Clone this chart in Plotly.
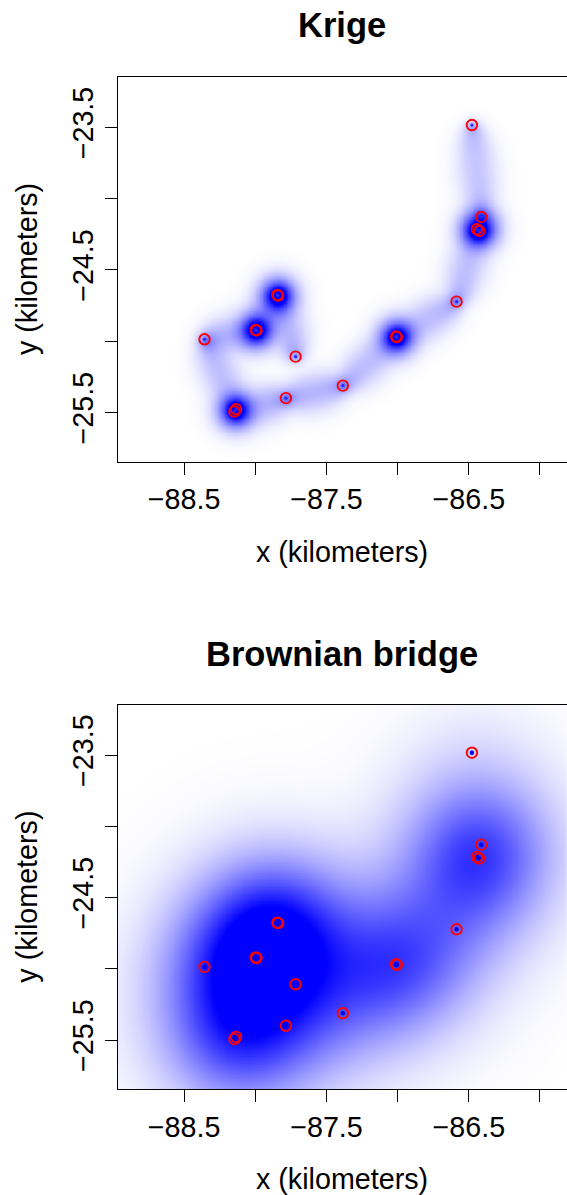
import numpy as np
import plotly.graph_objects as go

# ---- observed locations (in trajectory order) ----
x_obs = [-87.717, -87.845, -87.840, -87.997, -87.992, -88.357, -88.135, -88.147,
         -87.785, -87.385, -87.011, -87.006, -86.586, -86.443, -86.426, -86.412, -86.478]
y_obs = [-25.109, -24.676, -24.680, -24.921, -24.925, -24.987, -25.478, -25.494,
         -25.400, -25.312, -24.968, -24.972, -24.723, -24.215, -24.227, -24.129, -23.484]
# relative weight of each step between consecutive fixes (repeated fixes weigh more)
seg_weight = [1, 3, 1, 3, 1, 1, 3, 1, 1, 1, 3, 1, 1, 3, 1, 1]

x_ticks = [-88.5, -88.0, -87.5, -87.0, -86.5, -86.0]
x_ticktext = ["\u221288.5", "", "\u221287.5", "", "\u221286.5", ""]
y_ticks = [-23.5, -24.0, -24.5, -25.0, -25.5]
y_ticktext = ["\u221223.5", "", "\u221224.5", "", "\u221225.5"]

titles = ["Krige", "Brownian bridge"]
x_label = "x (kilometers)"
y_label = "y (kilometers)"

x_range = [-88.967, -85.81]
y_range = [-25.846, -23.149]

# ---- utilisation surfaces computed from the observed track ----
gx = np.linspace(x_range[0], x_range[1], 320)
gy = np.linspace(y_range[0], y_range[1], 275)
GX, GY = np.meshgrid(gx, gy)


def bridge_density(xs, ys, weights, sm, delta, nstep):
    xs = np.asarray(xs); ys = np.asarray(ys)
    Z = np.zeros_like(GX)
    alphas = (np.arange(nstep) + 0.5) / nstep
    for i in range(len(xs) - 1):
        w = weights[i]
        for a in alphas:
            mx = xs[i] + a * (xs[i + 1] - xs[i])
            my = ys[i] + a * (ys[i + 1] - ys[i])
            v = a * (1 - a) * sm ** 2 + delta ** 2 * ((1 - a) ** 2 + a ** 2)
            Z += w * np.exp(-((GX - mx) ** 2 + (GY - my) ** 2) / (2 * v)) / (2 * np.pi * v)
    return Z / (sum(weights) * nstep)


z_krige = bridge_density(x_obs, y_obs, seg_weight, 0.16, 0.015, 90)
z_krige = np.clip(z_krige / 3.5, 0, 1) ** 0.6

z_bb = bridge_density(x_obs, y_obs, seg_weight, 0.8, 0.25, 40)
z_bb = np.clip(z_bb / (0.70 * z_bb.max()), 0, 1)

W, H = 567, 1195
box_left = 117.7
boxes = [(77.3, 461.7), (705.0, 1089.3)]

fig = go.Figure()
font = "Liberation Sans, Arial, Helvetica, sans-serif"
blue_scale = [[0, "rgb(255,255,255)"], [1, "rgb(0,0,255)"]]

for k, (zz, (top, bot)) in enumerate(zip([z_krige, z_bb], boxes)):
    xa = "x" if k == 0 else "x2"
    ya = "y" if k == 0 else "y2"
    fig.add_trace(go.Heatmap(x=gx, y=gy, z=np.round(zz, 4), colorscale=blue_scale,
                             zmin=0, zmax=1, showscale=False, zsmooth="best",
                             hoverinfo="skip", xaxis=xa, yaxis=ya))
    fig.add_trace(go.Scatter(x=x_obs, y=y_obs, mode="markers", xaxis=xa, yaxis=ya,
                             marker=dict(symbol="circle", size=3.2 if k == 0 else 4.5,
                                         color="rgb(40,40,255)" if k == 0 else "rgb(0,0,225)"),
                             hoverinfo="skip", showlegend=False))
    fig.add_trace(go.Scatter(x=x_obs, y=y_obs, mode="markers", xaxis=xa, yaxis=ya,
                             marker=dict(symbol="circle-open", size=10.5, color="red",
                                         line=dict(width=1.9, color="red")),
                             hoverinfo="skip", showlegend=False))

axis_common = dict(showgrid=False, zeroline=False, showline=True, linecolor="black",
                   linewidth=1.3, ticks="outside", ticklen=12, tickwidth=1.3,
                   tickcolor="black", tickfont=dict(family=font, size=28.7, color="black"))

for k, (top, bot) in enumerate(boxes):
    sfx = "" if k == 0 else "2"
    fig.update_layout(**{
        "xaxis" + sfx: dict(axis_common, domain=[box_left / W, 1.0], range=x_range,
                            anchor="y" + sfx, tickmode="array", tickvals=x_ticks,
                            ticktext=x_ticktext, mirror=True),
        "yaxis" + sfx: dict(axis_common, domain=[1 - bot / H, 1 - top / H], range=y_range,
                            anchor="x" + sfx, tickmode="array", tickvals=y_ticks,
                            ticktext=y_ticktext, tickangle=-90, mirror=False),
    })

annotations = []
title_centers = [25.0, 654.0]
for k, (top, bot) in enumerate(boxes):
    cx = (box_left + W) / 2 / W
    annotations.append(dict(text="<b>" + titles[k] + "</b>", x=cx, y=1 - title_centers[k] / H,
                            xref="paper", yref="paper", showarrow=False, xanchor="center",
                            yanchor="middle", font=dict(family=font, size=34.5, color="black")))
    annotations.append(dict(text=x_label, x=cx, y=1 - (bot + 90) / H, xref="paper", yref="paper",
                            showarrow=False, xanchor="center", yanchor="middle",
                            font=dict(family=font, size=28.7, color="black")))
    annotations.append(dict(text=y_label, x=27.5 / W, y=1 - (top + bot) / 2 / H, xref="paper",
                            yref="paper", showarrow=False, xanchor="center", yanchor="middle",
                            textangle=-90, font=dict(family=font, size=28.7, color="black")))

fig.update_layout(width=W, height=H, margin=dict(l=0, r=0, t=0, b=0),
                  paper_bgcolor="white", plot_bgcolor="white", showlegend=False,
                  annotations=annotations)

fig.write_html("out.html", config={"displayModeBar": False},
               post_script="document.body.style.margin='0';document.body.style.overflow='hidden';")
